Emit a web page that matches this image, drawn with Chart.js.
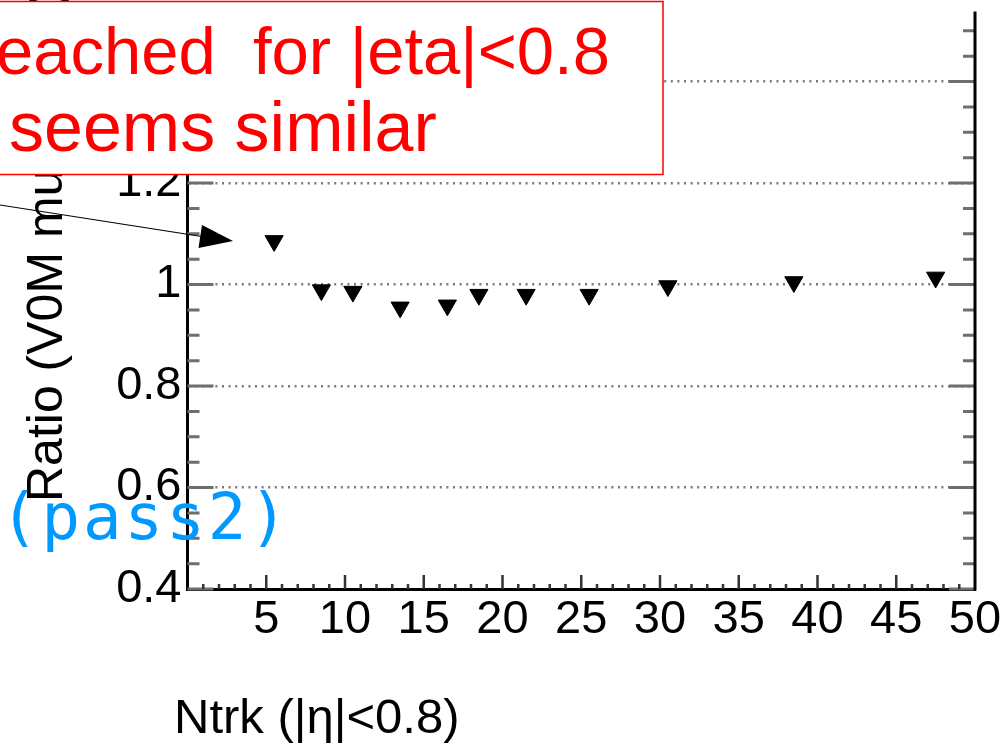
<!DOCTYPE html>
<html>
<head>
<meta charset="utf-8">
<title>Ratio vs Ntrk</title>
<script src="https://cdn.jsdelivr.net/npm/chart.js@4.4.1/dist/chart.umd.min.js"></script>
<style>
    body { margin: 0; background: #fff; }
    canvas { display: block; }
</style>
</head>
<body>
<canvas id="myChart" width="1006" height="744"></canvas>
<script>
const ntrkBins = [5.5, 8.5, 10.5, 13.5, 16.5, 18.5, 21.5, 25.5, 30.5, 38.5, 47.5];
const ratioV0M = [1.086, 0.989, 0.986, 0.955, 0.959, 0.980, 0.980, 0.980, 0.997, 1.005, 1.014];
const xTicks = [5, 10, 15, 20, 25, 30, 35, 40, 45, 50];
const yTicks = [0.4, 0.6, 0.8, 1, 1.2, 1.4];

const tituloX = 'Ntrk (|η|<0.8)';
const tituloY = 'Ratio (V0M multiplicity)';
const notaLinhas = ['reached  for |eta|<0.8', 'seems similar'];
const notaPass = '(pass2)';

const fonte = '"Liberation Sans", Arial, Helvetica, sans-serif';

// ticks inside the frame, titles and the pasted note on top of the plot
const desenhoExtra = {
    id: 'desenhoExtra',
    afterDraw(chart) {
        const ctx = chart.ctx;
        const area = chart.chartArea;
        const escX = chart.scales.x;
        const escY = chart.scales.y;

        ctx.save();
        ctx.strokeStyle = '#6e6e6e';
        ctx.lineWidth = 3;
        ctx.beginPath();
        for (let i = 8; i <= 30; i++) {
            const py = escY.getPixelForValue(i * 0.05);
            const len = i % 4 === 0 ? 26 : 12;
            ctx.moveTo(area.left, py);
            ctx.lineTo(area.left + len, py);
            ctx.moveTo(area.right, py);
            ctx.lineTo(area.right - len, py);
        }
        ctx.stroke();

        ctx.strokeStyle = '#333';
        ctx.lineWidth = 2.5;
        ctx.beginPath();
        for (let i = 1; i < 50; i++) {
            const px = escX.getPixelForValue(i);
            const len = i % 5 === 0 ? 14 : 5;
            ctx.moveTo(px, area.bottom);
            ctx.lineTo(px, area.bottom - len);
        }
        ctx.stroke();

        // right side of the frame
        ctx.strokeStyle = '#000';
        ctx.lineWidth = 3;
        ctx.beginPath();
        ctx.moveTo(area.right, area.top);
        ctx.lineTo(area.right, area.bottom + 1.5);
        ctx.stroke();

        // y title
        ctx.save();
        ctx.translate(62, 502);
        ctx.rotate(-Math.PI / 2);
        ctx.font = '50px ' + fonte;
        ctx.fillStyle = '#000';
        ctx.textAlign = 'left';
        ctx.textBaseline = 'alphabetic';
        ctx.fillText(tituloY, 0, 0);
        ctx.restore();

        // x title
        ctx.font = '49px ' + fonte;
        ctx.fillStyle = '#000';
        ctx.textAlign = 'left';
        ctx.textBaseline = 'alphabetic';
        ctx.fillText(tituloX, 174, 733);

        // arrow
        ctx.strokeStyle = '#000';
        ctx.lineWidth = 1.2;
        ctx.beginPath();
        ctx.moveTo(0, 205);
        ctx.lineTo(205, 237);
        ctx.stroke();
        ctx.fillStyle = '#000';
        ctx.beginPath();
        ctx.moveTo(233, 241);
        ctx.lineTo(202, 225);
        ctx.lineTo(198.5, 248);
        ctx.closePath();
        ctx.fill();

        // note box
        ctx.fillStyle = '#fff';
        ctx.fillRect(-10, 1, 673, 174);
        ctx.strokeStyle = '#ff0000';
        ctx.lineWidth = 1.5;
        ctx.strokeRect(-10, 1.5, 673, 173);

        ctx.fillStyle = '#ff0000';
        ctx.font = '67px ' + fonte;
        ctx.textAlign = 'right';
        ctx.fillText(notaLinhas[0], 610, 74);
        ctx.font = '70px ' + fonte;
        ctx.textAlign = 'left';
        ctx.fillText(notaLinhas[1], 9, 151);

        // blue label
        ctx.fillStyle = '#0099ff';
        ctx.font = '64px "DejaVu Sans Mono", monospace';
        ctx.letterSpacing = '3px';
        ctx.fillText(notaPass, 0, 539);
        ctx.restore();
    }
};

const data = {
    datasets: [{
        label: 'Ratio',
        data: ntrkBins.map((v, i) => ({ x: v, y: ratioV0M[i] })),
        pointStyle: 'triangle',
        rotation: 180,
        pointRadius: 10.5,
        pointHoverRadius: 10.5,
        backgroundColor: '#000',
        borderColor: '#000',
        borderWidth: 1
    }]
};

const config = {
    type: 'scatter',
    data: data,
    options: {
        responsive: false,
        animation: false,
        devicePixelRatio: 1,
        layout: { padding: { left: 0, right: 31, top: 0, bottom: 0 } },
        plugins: {
            legend: { display: false },
            tooltip: { enabled: false }
        },
        scales: {
            x: {
                type: 'linear',
                position: 'bottom',
                min: 0,
                max: 50,
                afterBuildTicks: (s) => { s.ticks = xTicks.map(v => ({ value: v })); },
                afterFit: (s) => { s.height = 155; s.paddingLeft = 0; s.paddingRight = 0; },
                grid: { display: false, drawTicks: false },
                border: { display: true, color: '#000', width: 3 },
                ticks: {
                    padding: 3,
                    color: '#000',
                    autoSkip: false,
                    maxRotation: 0,
                    font: { family: fonte, size: 47 },
                    callback: (v) => String(v)
                }
            },
            y: {
                type: 'linear',
                min: 0.4,
                max: 1.538,
                afterBuildTicks: (s) => { s.ticks = yTicks.map(v => ({ value: v })); },
                afterFit: (s) => { s.width = 187.5; s.paddingTop = 0; s.paddingBottom = 0; },
                grid: {
                    drawTicks: false,
                    lineWidth: 2.5,
                    color: (c) => (c.tick && c.tick.value > 0.5 ? '#7a7a7a' : 'rgba(0,0,0,0)')
                },
                border: { display: true, color: '#000', width: 3, dash: [2, 4.6] },
                ticks: {
                    padding: 6,
                    color: '#000',
                    autoSkip: false,
                    font: { family: fonte, size: 47 },
                    callback: (v) => String(v)
                }
            }
        }
    },
    plugins: [desenhoExtra]
};

const myChart = new Chart(document.getElementById('myChart'), config);
</script>
</body>
</html>
